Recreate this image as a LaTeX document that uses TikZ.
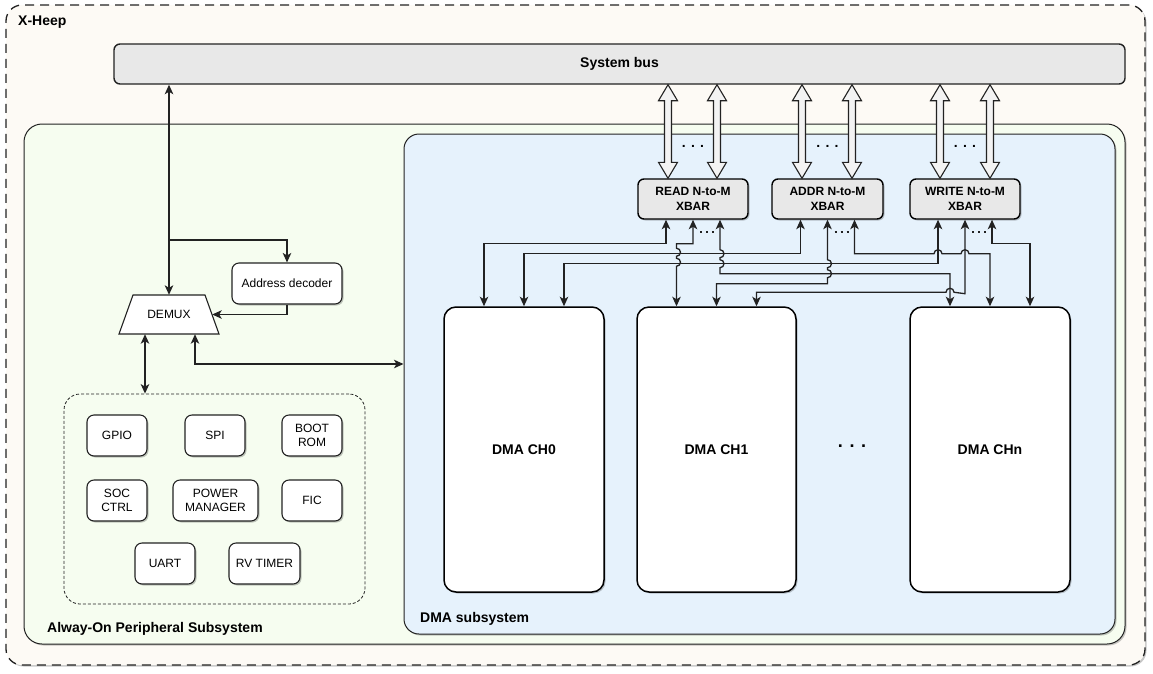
\documentclass[tikz,border=0pt]{standalone}
\usepackage{fontspec}
\setmainfont{Liberation Sans}
\usetikzlibrary{arrows.meta,shadows,calc,shapes.geometric}
\definecolor{cream}{RGB}{253,250,245}
\definecolor{busgray}{RGB}{232,232,232}
\definecolor{aogreen}{RGB}{246,253,240}
\definecolor{dmablue}{RGB}{230,242,252}
\definecolor{edge}{RGB}{34,34,34}
\definecolor{bafill}{RGB}{243,243,243}
\tikzset{
 f12/.style={font=\fontsize{12}{14}\selectfont},
 f12b/.style={font=\fontsize{12}{15}\selectfont\bfseries},
 f14b/.style={font=\fontsize{14}{16}\selectfont\bfseries},
 shad/.style={drop shadow={shadow xshift=1.5pt,shadow yshift=-1.5pt,opacity=0.22,fill=black}},
 container/.style={draw=edge,line width=1pt,inner sep=0pt,shad},
 rbox/.style={draw=edge,line width=1.1pt,rounded corners=7pt,fill=white,inner sep=0pt,align=center,f12,shad,minimum height=41pt,minimum width=60pt},
 xbar/.style={draw=black,line width=1.4pt,rounded corners=6pt,fill=busgray,inner sep=0pt,align=center,f12b,shad,minimum width=110pt,minimum height=40pt},
 dmach/.style={draw=black,line width=1.5pt,rounded corners=12pt,fill=white,inner sep=0pt,f14b,shad,minimum width=160pt,minimum height=285pt},
 lbl/.style={f14b,inner sep=0pt,anchor=west},
 wire/.style={draw=edge,line width=1.3pt,>={Stealth[length=9.5pt,width=8.5pt,inset=2.5pt]}},
 blockarr/.style={draw=edge,line width=1.1pt,fill=bafill,line join=miter},
 hdots/.style={f14b,inner sep=0pt},
 portdots/.style={draw=edge,line width=2pt,dash pattern=on 2pt off 4pt},
}
\newcommand\dblblockarrow[3]{%
 \coordinate (bt) at (#2.south -| #1);
 \coordinate (bb) at (#3.north -| #1);
 \draw[blockarr] (bt) -- ++(9.5,16) -- ++(-6,0) -- ($(bb)+(3.5,-16)$) -- ++(6,0) -- (bb) -- ++(-9.5,-16) -- ++(6,0) -- ($(bt)+(-3.5,16)$) -- ++(-6,0) -- cycle;}
\begin{document}
\begin{tikzpicture}[x=1pt,y=-1pt]
\useasboundingbox (0,0) rectangle (1153,673);
% containers
\node[container,dash pattern=on 9pt off 6pt,line width=1.3pt,fill=cream,rounded corners=16pt,minimum width=1139pt,minimum height=660pt] (xheep) at (575.5,335) {};
\node[lbl] (lxh) at (18,22) {X-Heep};
\node[draw=edge,line width=1.4pt,fill=busgray,rounded corners=6pt,minimum width=1011pt,minimum height=40pt,inner sep=0pt,f14b] (bus) at (619.5,64) {System bus};
\node[container,fill=aogreen,rounded corners=18pt,minimum width=1101pt,minimum height=520pt] (ao) at (574.5,384) {};
\node[lbl] (lao) at (47,629) {Alway-On Peripheral Subsystem};
\node[container,fill=dmablue,rounded corners=15pt,minimum width=711pt,minimum height=500pt] (dma) at (759.5,384) {};
\node[lbl] (ldma) at (420,619) {DMA subsystem};

% peripherals
\node[draw=edge,dash pattern=on 3pt off 2pt,line width=0.8pt,rounded corners=16pt,minimum width=301pt,minimum height=210pt,inner sep=0pt] (pgroup) at (214.5,499) {};
\node[rbox] (gpio) at (117,435.5) {GPIO};
\node[rbox] (spi) at (215,435.5) {SPI};
\node[rbox] (boot) at (312,435.5) {BOOT\\ROM};
\node[rbox] (soc) at (117,500.5) {SOC\\CTRL};
\node[rbox,minimum width=85pt] (pm) at (215.5,500.5) {POWER\\MANAGER};
\node[rbox] (fic) at (312,500.5) {FIC};
\node[rbox] (uart) at (165,563.5) {UART};
\node[rbox,minimum width=71pt] (rvt) at (264.5,563.5) {RV TIMER};

% demux and decoder
\draw[draw=edge,line width=1.1pt,fill=white,line join=miter] (119,334) -- (133,295) -- (205,295) -- (219,334) -- cycle;
\node[minimum width=100pt,minimum height=39pt,inner sep=0pt,f12] (demux) at (169,314.5) {DEMUX};
\node[rbox,minimum width=110pt] (adec) at (287,283.5) {Address decoder};

\coordinate (bdm) at (bus.south -| demux.north);
\coordinate (br) at (169,240);
\coordinate (dmr) at ($(demux.east)+(-7,0)$);
\draw[wire,<->] (bdm) -- (demux.north);
\draw[wire,->] (br) -| (adec.north);
\draw[wire,->] (adec.south) |- (dmr);
\coordinate (dm1) at ($(demux.south)+(-24,0)$);
\coordinate (dm2) at ($(demux.south)+(26,0)$);
\draw[wire,<->] (dm1) -- (dm1 |- pgroup.north);
\coordinate (dmin) at ($(dma.west)+(0,-20)$);
\draw[wire,<->] (dm2) |- (dmin);

% xbars
\node[xbar] (rd) at (693,199) {READ N-to-M\\XBAR};
\node[xbar,minimum width=111pt] (ad) at (827.5,199) {ADDR N-to-M\\XBAR};
\node[xbar] (wr) at (965,199) {WRITE N-to-M\\XBAR};

\coordinate (rdL) at ($(rd.north)+(-25,0)$); \coordinate (rdR) at ($(rd.north)+(24,0)$);
\coordinate (adL) at ($(ad.north)+(-25.5,0)$); \coordinate (adR) at ($(ad.north)+(24.5,0)$);
\coordinate (wrL) at ($(wr.north)+(-25,0)$); \coordinate (wrR) at ($(wr.north)+(25,0)$);
\dblblockarrow{rdL}{bus}{rd}
\dblblockarrow{rdR}{bus}{rd}
\dblblockarrow{adL}{bus}{ad}
\dblblockarrow{adR}{bus}{ad}
\dblblockarrow{wrL}{bus}{wr}
\dblblockarrow{wrR}{bus}{wr}
\node[hdots] (rdd) at ($(rd.north)+(0,-32)$) {. . .};
\node[hdots] (add) at ($(ad.north)+(0,-32)$) {. . .};
\node[hdots] (wrd) at ($(wr.north)+(0,-32)$) {. . .};

% channels
\node[dmach] (ch0) at (524,449.5) {DMA CH0};
\node[dmach,minimum width=159pt] (ch1) at (716.5,449.5) {DMA CH1};
\node[dmach] (chn) at (990,449.5) {DMA CHn};
\node[font=\fontsize{18}{20}\selectfont\bfseries,inner sep=0pt] (chdots) at (852,446) {. . .};

% ports
\coordinate (r1) at ($(rd.south)+(-27,0)$); \coordinate (r2) at (rd.south); \coordinate (r3) at ($(rd.south)+(27,0)$);
\coordinate (a1) at ($(ad.south)+(-27,0)$); \coordinate (a2) at (ad.south); \coordinate (a3) at ($(ad.south)+(27,0)$);
\coordinate (w1) at ($(wr.south)+(-27,0)$); \coordinate (w2) at (wr.south); \coordinate (w3) at ($(wr.south)+(27,0)$);
\coordinate (c01) at ($(ch0.north)+(-40,0)$); \coordinate (c02) at (ch0.north); \coordinate (c03) at ($(ch0.north)+(40,0)$);
\coordinate (c11) at ($(ch1.north)+(-40,0)$); \coordinate (c12) at (ch1.north); \coordinate (c13) at ($(ch1.north)+(40,0)$);
\coordinate (cn1) at ($(chn.north)+(-40,0)$); \coordinate (cn2) at (chn.north); \coordinate (cn3) at ($(chn.north)+(40,0)$);

\draw[portdots] ($(r2)+(7,12)$) -- ($(r3)+(-5,12)$);
\draw[portdots] ($(a2)+(7,12)$) -- ($(a3)+(-5,12)$);
\draw[portdots] ($(w2)+(7,12)$) -- ($(w3)+(-5,12)$);

% wires
\draw[wire,<->] (r1) -- ++(0,24) -| (c01);
\draw[wire,<->] (a1) -- ++(0,34) -| (c02);
\draw[wire,<->] (w1) -- ++(0,44) -| (c03);
\draw[wire,<->] (r2) -- ++(0,24) -| ($(c11)+(0,-58)$) arc(-90:90:4) -- ++(0,2) arc(-90:90:4) -- (c11);
\draw[wire,<->] (r3) -- ++(0,30) arc(-90:90:4) -- ++(0,2) arc(-90:90:4) -- ++(0,6) -| (cn1);
\draw[wire,<->] (a2) -- ++(0,40) arc(-90:90:4) -- ++(0,2) arc(-90:90:4) -- ++(0,6) -| (c12);
\draw[wire,<->] (w2) -- ++(0,74) -- ($(cn1)+(4,-14)$) arc(0:-180:4) -| (c13);
\draw[wire,<->] (a3) -- ++(0,34) -- ($(w1)+(-4,34)$) arc(180:360:4) -- ($(w2)+(-4,34)$) arc(180:360:4) -| (cn2);
\draw[wire,<->] (w3) -- ++(0,24) -| (cn3);
\end{tikzpicture}
\end{document}
